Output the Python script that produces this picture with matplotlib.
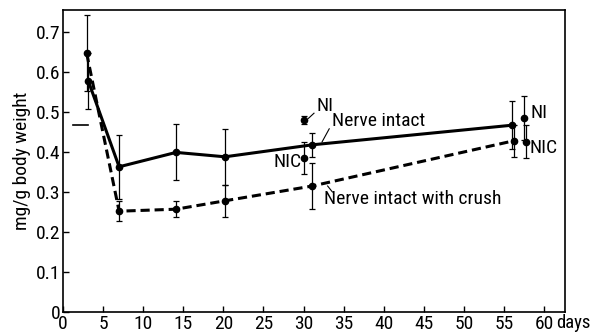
import matplotlib
matplotlib.use("Agg")
import matplotlib.pyplot as plt

plt.rcParams['font.family'] = ['Roboto Condensed', 'Archivo Narrow', 'PT Sans Narrow',
                               'Liberation Sans', 'DejaVu Sans']

# Nerve intact (solid)
ni_days = [3.15, 7, 14.1, 20.2, 31.1, 56.0]
ni_vals = [0.578, 0.363, 0.399, 0.388, 0.418, 0.467]
ni_err = [0.07, 0.08, 0.07, 0.07, 0.03, 0.06]

# Nerve intact with crush (dashed)
nic_days = [2.95, 7, 14.1, 20.2, 31.1, 56.2]
nic_vals = [0.647, 0.252, 0.257, 0.278, 0.315, 0.428]
nic_err = [0.095, 0.025, 0.02, 0.04, 0.057, 0.04]

# Separate NI / NIC points
sep_days = [30.1, 30.1, 57.5, 57.7]
sep_vals = [0.480, 0.386, 0.486, 0.426]
sep_err = [0.01, 0.04, 0.055, 0.042]

initial_val = 0.467
initial_days = [1.2, 3.1]

xticks = [0, 5, 10, 15, 20, 25, 30, 35, 40, 45, 50, 55, 60]
yticks = [0, 0.1, 0.2, 0.3, 0.4, 0.5, 0.6, 0.7]
ytick_labels = ["0", "0.1", "0.2", "0.3", "0.4", "0.5", "0.6", "0.7"]

fig = plt.figure(figsize=(5.93, 3.35), dpi=100)
ax = fig.add_axes([0.1062, 0.0687, 0.8466, 0.9014])
ax.set_xlim(0, 62.6)
ax.set_ylim(0, 0.755)

ax.errorbar(ni_days, ni_vals, yerr=ni_err, color='black', lw=2.2, marker='o', ms=4.5,
            ecolor='black', elinewidth=0.9, capsize=2.5, capthick=0.9)
ax.errorbar(nic_days, nic_vals, yerr=nic_err, color='black', lw=2.2, marker='o', ms=4.5,
            linestyle=(0, (3, 1.6)), ecolor='black', elinewidth=0.9, capsize=2.5, capthick=0.9)
ax.errorbar(sep_days, sep_vals, yerr=sep_err, color='black', lw=0, marker='o', ms=4.5,
            ecolor='black', elinewidth=0.9, capsize=2.5, capthick=0.9)

ax.plot(initial_days, [initial_val, initial_val], color='black', lw=1.2)

fs = 14
ax.text(31.6, 0.515, "NI", fontsize=fs, va='center', ha='left')
ax.plot([30.6, 31.3], [0.484, 0.497], color='black', lw=0.8)
ax.text(29.8, 0.375, "NIC", fontsize=fs, va='center', ha='right')
ax.text(58.3, 0.497, "NI", fontsize=fs, va='center', ha='left')
ax.text(58.2, 0.410, "NIC", fontsize=fs, va='center', ha='left')

ax.text(33.6, 0.477, "Nerve intact", fontsize=fs, va='center', ha='left')
ax.plot([32.3, 33.2], [0.425, 0.458], color='black', lw=0.8)
ax.text(32.6, 0.283, "Nerve intact with crush", fontsize=fs, va='center', ha='left')
ax.plot([33.0, 33.6], [0.315, 0.300], color='black', lw=0.8)

ax.set_xticks(xticks)
ax.set_xticklabels([str(t) for t in xticks])
ax.set_yticks(yticks)
ax.set_yticklabels(ytick_labels)
ax.tick_params(direction='in', length=4, width=1, labelsize=14, pad=2)
ax.text(0.983, -0.008, "days", transform=ax.transAxes, fontsize=13.5, va='top', ha='left')
ax.set_ylabel("mg/g body weight", fontsize=fs, labelpad=3)
for s in ax.spines.values():
    s.set_linewidth(1.2)

fig.savefig("out.png", dpi=100)
